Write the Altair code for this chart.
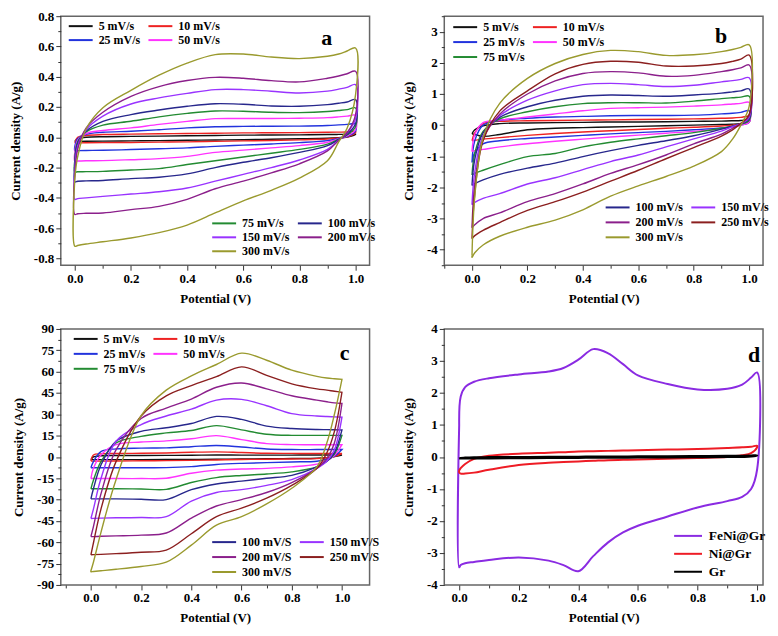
import altair as alt
import pandas as pd

FONT = "Liberation Serif"
MINUS = "\u2212"

# potential grid (V) used for panels a, b, c
GRID_X = [0.0, 0.01, 0.04, 0.1, 0.2, 0.3, 0.4, 0.5, 0.6, 0.7, 0.8, 0.9, 0.94, 0.97, 1.0]
# potential grid for panel d
D_X = [0.0, 0.005, 0.02, 0.05, 0.1, 0.2, 0.3, 0.35, 0.4, 0.45, 0.5, 0.55, 0.6, 0.7, 0.8, 0.9, 0.95, 0.98, 1.0]

COLORS = {
    "5": "#111111", "10": "#ee2222", "25": "#2233dd", "50": "#ff33ff", "75": "#238b32",
    "100": "#27278c", "150": "#9933ff", "200": "#8b1f8b", "250": "#8b1f1f", "300": "#9a9a2e",
}

# ---------------- panel a ----------------
A_UPPER = {
    "5": [-0.027, -0.008, 0.0, 0.004, 0.006, 0.008, 0.01, 0.012, 0.014, 0.015, 0.016, 0.018, 0.019, 0.02, 0.022],
    "10": [-0.037, 0.0, 0.012, 0.018, 0.021, 0.023, 0.025, 0.027, 0.029, 0.03, 0.031, 0.033, 0.034, 0.035, 0.04],
    "25": [-0.06, -0.01, 0.02, 0.033, 0.04, 0.05, 0.062, 0.07, 0.072, 0.073, 0.074, 0.078, 0.082, 0.085, 0.088],
    "50": [-0.1, -0.02, 0.025, 0.045, 0.062, 0.085, 0.105, 0.123, 0.124, 0.124, 0.126, 0.13, 0.135, 0.14, 0.145],
    "75": [-0.15, -0.03, 0.035, 0.08, 0.106, 0.135, 0.158, 0.174, 0.172, 0.165, 0.163, 0.17, 0.177, 0.183, 0.194],
    "100": [-0.18, -0.04, 0.04, 0.105, 0.15, 0.18, 0.205, 0.222, 0.218, 0.207, 0.205, 0.216, 0.225, 0.233, 0.249],
    "150": [-0.22, -0.06, 0.05, 0.14, 0.22, 0.26, 0.29, 0.315, 0.315, 0.304, 0.293, 0.305, 0.318, 0.33, 0.348],
    "200": [-0.25, -0.08, 0.06, 0.165, 0.27, 0.335, 0.375, 0.396, 0.39, 0.374, 0.366, 0.39, 0.405, 0.42, 0.436],
    "300": [-0.27, -0.13, 0.055, 0.195, 0.31, 0.41, 0.49, 0.546, 0.55, 0.53, 0.52, 0.535, 0.55, 0.57, 0.59],
}
A_LOWER = {
    "5": [-0.027, -0.027, -0.026, -0.025, -0.024, -0.022, -0.02, -0.018, -0.016, -0.013, -0.01, -0.006, -0.002, 0.002, 0.02],
    "10": [-0.037, -0.037, -0.036, -0.035, -0.034, -0.032, -0.03, -0.027, -0.024, -0.021, -0.017, -0.011, -0.005, 0.002, 0.03],
    "25": [-0.088, -0.088, -0.087, -0.086, -0.081, -0.076, -0.07, -0.06, -0.052, -0.044, -0.035, -0.022, -0.008, 0.005, 0.04],
    "50": [-0.159, -0.157, -0.155, -0.154, -0.148, -0.141, -0.126, -0.1, -0.085, -0.07, -0.055, -0.033, -0.01, 0.01, 0.05],
    "75": [-0.229, -0.228, -0.227, -0.225, -0.216, -0.207, -0.18, -0.155, -0.13, -0.105, -0.08, -0.045, -0.012, 0.015, 0.07],
    "100": [-0.295, -0.29, -0.288, -0.285, -0.273, -0.264, -0.242, -0.2, -0.165, -0.135, -0.1, -0.055, -0.015, 0.02, 0.09],
    "150": [-0.41, -0.405, -0.4, -0.39, -0.375, -0.36, -0.335, -0.29, -0.245, -0.2, -0.15, -0.08, -0.02, 0.03, 0.12],
    "200": [-0.51, -0.505, -0.502, -0.5, -0.478, -0.456, -0.41, -0.34, -0.29, -0.235, -0.175, -0.09, -0.02, 0.03, 0.15],
    "300": [-0.72, -0.715, -0.705, -0.69, -0.665, -0.63, -0.58, -0.5, -0.42, -0.35, -0.27, -0.155, -0.03, 0.06, 0.28],
}
A_TOP = ["5", "10", "25", "50"]
A_BOTTOM = ["75", "100", "150", "200", "300"]

# ---------------- panel b ----------------
B_UPPER = {
    "5": [-0.28, -0.15, -0.02, 0.05, 0.07, 0.08, 0.09, 0.1, 0.1, 0.11, 0.12, 0.13, 0.14, 0.15, 0.18],
    "10": [-0.5, -0.25, 0.05, 0.12, 0.14, 0.15, 0.16, 0.17, 0.18, 0.19, 0.2, 0.22, 0.23, 0.25, 0.28],
    "25": [-1.2, -0.5, 0.0, 0.15, 0.22, 0.26, 0.28, 0.3, 0.31, 0.31, 0.32, 0.36, 0.38, 0.41, 0.46],
    "50": [-0.85, -0.3, 0.08, 0.16, 0.26, 0.36, 0.46, 0.54, 0.56, 0.58, 0.61, 0.65, 0.68, 0.7, 0.73],
    "75": [-1.6, -0.9, -0.2, 0.2, 0.43, 0.59, 0.69, 0.72, 0.72, 0.71, 0.77, 0.85, 0.88, 0.9, 0.93],
    "100": [-1.94, -1.1, -0.25, 0.25, 0.59, 0.8, 0.93, 0.97, 0.95, 0.93, 0.97, 1.03, 1.07, 1.1, 1.16],
    "150": [-2.56, -1.5, -0.35, 0.3, 0.8, 1.1, 1.3, 1.34, 1.3, 1.24, 1.28, 1.39, 1.43, 1.47, 1.52],
    "200": [-3.3, -1.9, -0.45, 0.35, 1.0, 1.42, 1.66, 1.72, 1.68, 1.57, 1.6, 1.72, 1.78, 1.84, 1.93],
    "250": [-3.65, -2.2, -0.5, 0.45, 1.1, 1.65, 1.95, 2.05, 2.02, 1.9, 1.9, 1.98, 2.05, 2.12, 2.25],
    "300": [-4.2, -2.3, -0.4, 0.7, 1.5, 1.98, 2.27, 2.4, 2.36, 2.24, 2.26, 2.36, 2.43, 2.5, 2.58],
}
B_LOWER = {
    "5": [-0.28, -0.3, -0.36, -0.3, -0.15, -0.1, -0.08, -0.06, -0.04, -0.02, 0.0, 0.02, 0.03, 0.05, 0.1],
    "10": [-0.5, -0.49, -0.45, -0.4, -0.33, -0.27, -0.22, -0.18, -0.14, -0.1, -0.07, -0.03, 0.0, 0.03, 0.1],
    "25": [-1.2, -0.9, -0.6, -0.5, -0.43, -0.38, -0.33, -0.28, -0.24, -0.2, -0.15, -0.09, -0.04, 0.0, 0.1],
    "50": [-0.85, -0.82, -0.78, -0.7, -0.6, -0.52, -0.45, -0.38, -0.32, -0.26, -0.2, -0.12, -0.06, 0.0, 0.1],
    "75": [-1.6, -1.55, -1.45, -1.27, -1.01, -0.91, -0.7, -0.55, -0.44, -0.34, -0.24, -0.1, -0.03, 0.03, 0.15],
    "100": [-1.94, -1.88, -1.76, -1.58, -1.38, -1.22, -1.01, -0.82, -0.65, -0.5, -0.34, -0.13, -0.03, 0.05, 0.2],
    "150": [-2.56, -2.48, -2.35, -2.2, -1.89, -1.69, -1.43, -1.17, -0.96, -0.7, -0.44, -0.19, -0.05, 0.05, 0.25],
    "200": [-3.3, -3.2, -3.0, -2.82, -2.46, -2.2, -1.89, -1.55, -1.27, -0.96, -0.6, -0.29, -0.1, 0.05, 0.3],
    "250": [-3.65, -3.55, -3.38, -3.13, -2.74, -2.46, -2.15, -1.8, -1.45, -1.08, -0.72, -0.35, -0.15, 0.05, 0.35],
    "300": [-4.25, -4.1, -3.85, -3.57, -3.28, -3.05, -2.72, -2.28, -1.95, -1.65, -1.32, -0.85, -0.45, 0.0, 0.6],
}
B_TOP = ["5", "10", "25", "50", "75"]
B_BOTTOM = ["100", "150", "200", "250", "300"]

# ---------------- panel c ----------------
C_UPPER = {
    "5": [-1.9, 0.0, 0.8, 1.0, 1.0, 1.1, 1.2, 1.4, 1.3, 1.3, 1.3, 1.4, 1.4, 1.4, 1.4],
    "10": [-2.9, 1.4, 2.2, 2.4, 2.6, 2.8, 3.3, 3.6, 3.1, 2.6, 2.5, 2.4, 2.4, 2.4, 2.4],
    "25": [-7.6, -3.3, 3.8, 5.7, 6.2, 6.4, 7.2, 8.1, 7.0, 5.6, 5.2, 5.2, 5.2, 5.2, 5.2],
    "50": [-15.2, -8.0, 1.4, 8.6, 10.5, 11.3, 12.8, 15.0, 12.2, 9.4, 8.7, 8.6, 8.6, 8.6, 8.6],
    "75": [-22.4, -16.4, -3.3, 9.8, 14.5, 16.9, 18.6, 22.0, 19.0, 16.0, 15.2, 15.2, 15.2, 15.2, 15.2],
    "100": [-29.5, -22.4, -5.7, 11.0, 18.0, 20.5, 23.5, 28.5, 26.4, 21.7, 20.0, 19.3, 19.2, 19.1, 19.0],
    "150": [-43.3, -36.7, -15.2, 11.0, 22.8, 28.8, 33.6, 40.0, 40.5, 36.0, 30.5, 28.8, 28.4, 28.2, 28.0],
    "200": [-56.0, -49.0, -26.0, 5.0, 27.0, 34.3, 40.7, 49.0, 52.0, 47.9, 43.0, 40.0, 38.8, 38.0, 37.6],
    "250": [-68.8, -60.5, -36.7, -3.3, 28.8, 43.0, 50.2, 56.5, 63.3, 57.4, 51.4, 47.9, 47.0, 46.2, 45.5],
    "300": [-80.0, -74.0, -53.0, -16.0, 29.0, 47.0, 57.0, 65.0, 73.0, 68.0, 61.0, 56.7, 55.5, 55.0, 54.6],
}
C_LOWER = {
    "5": [-1.9, -1.9, -1.9, -1.9, -1.9, -1.8, -1.7, -1.6, -1.4, -1.3, -1.1, -0.9, -0.5, 0.2, 1.4],
    "10": [-2.9, -2.9, -2.9, -2.8, -2.7, -2.6, -2.4, -2.1, -1.8, -1.6, -1.4, -1.2, -0.6, 0.3, 2.4],
    "25": [-7.6, -7.6, -7.6, -7.6, -7.6, -7.5, -6.8, -5.3, -4.5, -4.0, -3.5, -3.0, -1.5, 0.5, 5.2],
    "50": [-15.2, -15.2, -15.2, -15.2, -15.2, -15.0, -11.5, -9.3, -8.5, -8.0, -7.0, -5.0, -2.5, 1.0, 8.6],
    "75": [-22.4, -22.4, -22.4, -22.4, -22.5, -22.8, -18.0, -14.5, -13.0, -12.0, -10.5, -7.0, -3.0, 2.0, 15.2],
    "100": [-29.5, -29.5, -29.5, -29.5, -29.7, -30.0, -23.0, -19.0, -17.0, -15.0, -13.0, -7.0, -3.0, 3.0, 19.0],
    "150": [-43.3, -43.2, -43.0, -42.8, -42.6, -42.0, -31.0, -25.0, -23.0, -20.0, -16.0, -8.0, -3.0, 5.0, 28.0],
    "200": [-56.0, -56.0, -55.8, -55.5, -55.0, -53.5, -43.0, -34.5, -30.0, -25.0, -18.0, -8.0, -1.0, 10.0, 37.6],
    "250": [-68.8, -68.7, -68.5, -68.0, -67.0, -65.5, -54.0, -42.0, -36.0, -29.0, -20.0, -8.0, 3.0, 18.0, 45.5],
    "300": [-80.7, -80.5, -80.0, -79.0, -77.0, -74.0, -62.0, -48.0, -42.0, -33.0, -22.0, -7.0, 10.0, 30.0, 54.6],
}
C_TOP = ["5", "10", "25", "50", "75"]
C_BOTTOM = ["100", "150", "200", "250", "300"]

# ---------------- panel d ----------------
D_NAMES = ["FeNi@Gr", "Ni@Gr", "Gr"]
D_COLORS = ["#8a2be2", "#ee1c25", "#000000"]
D_WIDTHS = [2.0, 2.0, 3.0]
D_UPPER = {
    "FeNi@Gr": [1.0, 1.88, 2.18, 2.35, 2.46, 2.58, 2.67, 2.78, 3.04, 3.37, 3.24, 2.9, 2.55, 2.28, 2.11, 2.13, 2.26, 2.48, 2.64],
    "Ni@Gr": [-0.42, -0.35, -0.22, -0.06, 0.04, 0.1, 0.13, 0.15, 0.17, 0.18, 0.19, 0.2, 0.21, 0.23, 0.25, 0.28, 0.3, 0.32, 0.35],
    "Gr": [-0.05, -0.03, -0.02, -0.01, -0.005, 0.0, 0.005, 0.008, 0.01, 0.012, 0.015, 0.017, 0.02, 0.025, 0.03, 0.035, 0.04, 0.045, 0.05],
}
D_LOWER = {
    "FeNi@Gr": [-3.45, -3.38, -3.32, -3.28, -3.22, -3.14, -3.24, -3.38, -3.57, -3.1, -2.67, -2.36, -2.15, -1.86, -1.58, -1.38, -1.25, -1.0, -0.4],
    "Ni@Gr": [-0.48, -0.52, -0.52, -0.49, -0.4, -0.25, -0.18, -0.16, -0.14, -0.12, -0.1, -0.09, -0.08, -0.06, -0.03, 0.0, 0.05, 0.12, 0.3],
    "Gr": [-0.05, -0.05, -0.05, -0.048, -0.045, -0.04, -0.035, -0.032, -0.03, -0.027, -0.025, -0.022, -0.02, -0.015, -0.01, -0.005, 0.0, 0.01, 0.04],
}

X_MAJOR = [0.0, 0.2, 0.4, 0.6, 0.8, 1.0]


def loop_frame(xs, upper, lower, keys, labels):
    rows = []
    for key, name in zip(keys, labels):
        up, lo = upper[key], lower[key]
        pts = list(zip(xs, up)) + list(zip(xs[::-1], lo[::-1])) + [(xs[0], up[0])]
        for k, (x, y) in enumerate(pts):
            rows.append({"x": x, "y": y, "series": name, "i": k})
    return pd.DataFrame(rows)


def make_axis(title, major, minor, fmt, title_pad):
    lst = ",".join(repr(v) for v in minor)
    test = "indexof([" + lst + "], datum.value) >= 0"
    expr = test + " ? '' : replace(format(datum.value, '" + fmt + "'), '" + MINUS + "', '-')"
    return alt.Axis(
        title=title, values=sorted(major + minor), labelExpr=expr,
        tickSize={"condition": {"test": test, "value": 3}, "value": 5},
        labelOverlap=False, labelFlush=False, titlePadding=title_pad,
    )


def make_legend(x, y, columns, row_pad, font_size=12, sym_len=24):
    r = 4
    path = "M-1,0L" + str((sym_len - r) / r) + ",0"
    return alt.Legend(
        title=None, orient="none", legendX=x, legendY=y, columns=columns, direction="horizontal",
        symbolType=path, symbolSize=(2 * r) ** 2, symbolStrokeWidth=2,
        labelFont=FONT, labelFontSize=font_size, labelFontWeight="bold", labelColor="black",
        labelOffset=sym_len - 2 * r + 4, rowPadding=row_pad, columnPadding=4, padding=0,
    )


def make_panel(xs, upper, lower, groups, xdom, ydom, xaxis, yaxis, letter, lxy, w, h,
               widths=None):
    layers = []
    for keys, labels, colors, legend in groups:
        df = loop_frame(xs, upper, lower, keys, labels)
        enc = dict(
            x=alt.X("x:Q", scale=alt.Scale(domain=xdom, nice=False, zero=False), axis=xaxis),
            y=alt.Y("y:Q", scale=alt.Scale(domain=ydom, nice=False, zero=False), axis=yaxis),
            color=alt.Color("series:N", scale=alt.Scale(domain=labels, range=colors), legend=legend),
            order="i:Q",
        )
        if widths is not None:
            enc["strokeWidth"] = alt.StrokeWidth(
                "series:N", scale=alt.Scale(domain=labels, range=widths), legend=None)
            mark = alt.Chart(df).mark_line(interpolate="catmull-rom", clip=True)
        else:
            mark = alt.Chart(df).mark_line(strokeWidth=1.4, interpolate="catmull-rom", clip=True)
        layers.append(mark.encode(**enc))
    txt = alt.Chart(pd.DataFrame({"t": [letter]})).mark_text(
        font=FONT, fontSize=22, fontWeight="bold", align="center", baseline="middle", color="black"
    ).encode(text="t:N", x=alt.value(lxy[0]), y=alt.value(lxy[1]))
    return alt.layer(*layers, txt).resolve_scale(color="independent").properties(width=w, height=h)


X_TITLE = "Potential (V)"
Y_TITLE = "Current density (A/g)"

# panel a
a_xaxis = make_axis(X_TITLE, X_MAJOR, [0.1, 0.3, 0.5, 0.7, 0.9], ".1f", 7)
a_yaxis = make_axis(Y_TITLE, [-0.8, -0.6, -0.4, -0.2, 0.0, 0.2, 0.4, 0.6, 0.8],
                    [-0.7, -0.5, -0.3, -0.1, 0.1, 0.3, 0.5, 0.7], ".1f", 11)
pa = make_panel(
    GRID_X, A_UPPER, A_LOWER,
    [
        (A_TOP, [k + " mV/s" for k in A_TOP], [COLORS[k] for k in A_TOP], make_legend(6, 4, 2, 2)),
        (A_BOTTOM, [k + " mV/s" for k in A_BOTTOM], [COLORS[k] for k in A_BOTTOM], make_legend(150, 202, 2, 2)),
    ],
    [-0.05, 1.05], [-0.845, 0.8], a_xaxis, a_yaxis, "a", (267, 22), 310, 250,
)

# panel b
b_xaxis = make_axis(X_TITLE, X_MAJOR, [-0.1, 0.1, 0.3, 0.5, 0.7, 0.9], ".1f", 7)
b_yaxis = make_axis(Y_TITLE, [-4, -3, -2, -1, 0, 1, 2, 3],
                    [-4.5, -3.5, -2.5, -1.5, -0.5, 0.5, 1.5, 2.5, 3.5], "d", 11)
pb = make_panel(
    GRID_X, B_UPPER, B_LOWER,
    [
        (B_TOP, [k + " mV/s" for k in B_TOP], [COLORS[k] for k in B_TOP], make_legend(7, 5, 2, 3)),
        (B_BOTTOM, [k + " mV/s" for k in B_BOTTOM], [COLORS[k] for k in B_BOTTOM], make_legend(160, 186, 2, 3)),
    ],
    [-0.1, 1.05], [-4.5, 3.5], b_xaxis, b_yaxis, "b", (278, 20), 320, 250,
)

# panel c
c_xaxis = make_axis(X_TITLE, X_MAJOR, [-0.1, 0.1, 0.3, 0.5, 0.7, 0.9], ".1f", 7)
c_yaxis = make_axis(Y_TITLE, [-90, -75, -60, -45, -30, -15, 0, 15, 30, 45, 60, 75, 90],
                    [-82.5, -67.5, -52.5, -37.5, -22.5, -7.5, 7.5, 22.5, 37.5, 52.5, 67.5, 82.5], "d", 11)
pc = make_panel(
    GRID_X, C_UPPER, C_LOWER,
    [
        (C_TOP, [k + " mV/s" for k in C_TOP], [COLORS[k] for k in C_TOP], make_legend(11, 4, 2, 3)),
        (C_BOTTOM, [k + " mV/S" for k in C_BOTTOM], [COLORS[k] for k in C_BOTTOM], make_legend(150, 208, 2, 3)),
    ],
    [-0.12, 1.11], [-90, 90], c_xaxis, c_yaxis, "c", (285, 24), 310, 257,
)

# panel d
d_xaxis = make_axis(X_TITLE, X_MAJOR, [0.1, 0.3, 0.5, 0.7, 0.9], ".1f", 7)
d_yaxis = make_axis(Y_TITLE, [-4, -3, -2, -1, 0, 1, 2, 3, 4],
                    [-3.5, -2.5, -1.5, -0.5, 0.5, 1.5, 2.5, 3.5], "d", 11)
pd_ = make_panel(
    D_X, D_UPPER, D_LOWER,
    [(D_NAMES, D_NAMES, D_COLORS, make_legend(228, 201, 1, 3, font_size=13.5, sym_len=28))],
    [-0.05, 1.02], [-4, 4], d_xaxis, d_yaxis, "d", (311, 26), 320, 257, widths=D_WIDTHS,
)

chart = alt.concat(
    pa, pb, pc, pd_, columns=2, spacing={"row": 64, "column": 75}, bounds="flush"
).properties(
    padding={"left": 0, "top": 0, "right": 0, "bottom": 0}
).configure_view(
    stroke="#666666", strokeWidth=1.5
).configure_axis(
    labelFont=FONT, labelFontSize=13, labelFontWeight="bold", labelColor="black",
    titleFont=FONT, titleFontSize=13, titleFontWeight="bold", titleColor="black",
    domain=False, grid=False, tickColor="#333333", tickWidth=1, labelPadding=2,
)

chart.save("out.html", embed_options={"renderer": "svg", "actions": False})
